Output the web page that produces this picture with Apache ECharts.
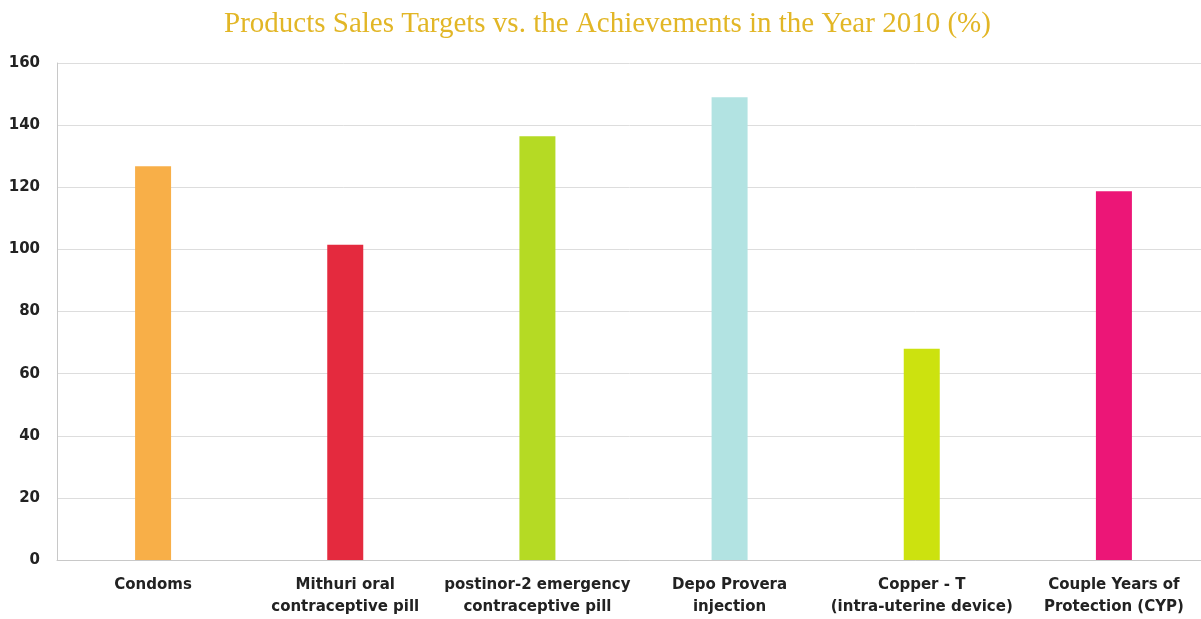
<!DOCTYPE html>
<html>
<head>
<meta charset="utf-8">
<script src="https://cdn.jsdelivr.net/npm/echarts@6/dist/echarts.min.js"></script>
<style>
html,body{margin:0;padding:0;background:#fff;}
#chart{width:1201px;height:619px;}
</style>
</head>
<body>
<div id="chart"></div>
<script>
const titleText = "Products Sales Targets vs. the Achievements in the Year 2010 (%)";
const categories = [
  "Condoms",
  "Mithuri oral\ncontraceptive pill",
  "postinor-2 emergency\ncontraceptive pill",
  "Depo Provera\ninjection",
  "Copper - T\n(intra-uterine device)",
  "Couple Years of\nProtection (CYP)"
];
const values = [126.8, 101.5, 136.4, 149, 68, 118.7];
const barColors = ["#F8AF48", "#E42A3E", "#B5DA24", "#B2E3E2", "#CCE20F", "#EC1677"];
const yTicks = { min: 0, max: 160, interval: 20 };

const chart = echarts.init(document.getElementById('chart'));
chart.setOption({
  backgroundColor: '#ffffff',
  animation: false,
  title: {
    text: titleText,
    left: 219,
    top: 5,
    textStyle: {
      fontFamily: 'Liberation Serif',
      fontWeight: 'normal',
      fontSize: 29,
      color: '#E2B626'
    }
  },
  grid: { left: 57, width: 1153, top: 63, bottom: 59, containLabel: false, outerBoundsMode: 'none' },
  xAxis: {
    type: 'category',
    data: categories,
    axisLine: { show: true, lineStyle: { color: '#c8c8c8', width: 1 } },
    axisTick: { show: false },
    axisLabel: {
      margin: 14,
      interval: 0,
      fontFamily: 'DejaVu Sans',
      fontWeight: 'bold',
      fontSize: 15,
      lineHeight: 22,
      color: '#222222',
      align: 'center'
    }
  },
  yAxis: {
    type: 'value',
    min: yTicks.min,
    max: yTicks.max,
    interval: yTicks.interval,
    axisLine: { show: true, lineStyle: { color: '#c8c8c8', width: 1 } },
    axisTick: { show: false },
    splitLine: { lineStyle: { color: '#dddddd', width: 1 } },
    axisLabel: {
      margin: 17,
      fontFamily: 'DejaVu Sans',
      fontWeight: 'bold',
      fontSize: 15,
      color: '#222222',
      padding: [0, 0, 6, 0]
    }
  },
  series: [{
    type: 'bar',
    barWidth: 36,
    data: values.map((v, i) => ({ value: v, itemStyle: { color: barColors[i] } }))
  }]
});
</script>
</body>
</html>
